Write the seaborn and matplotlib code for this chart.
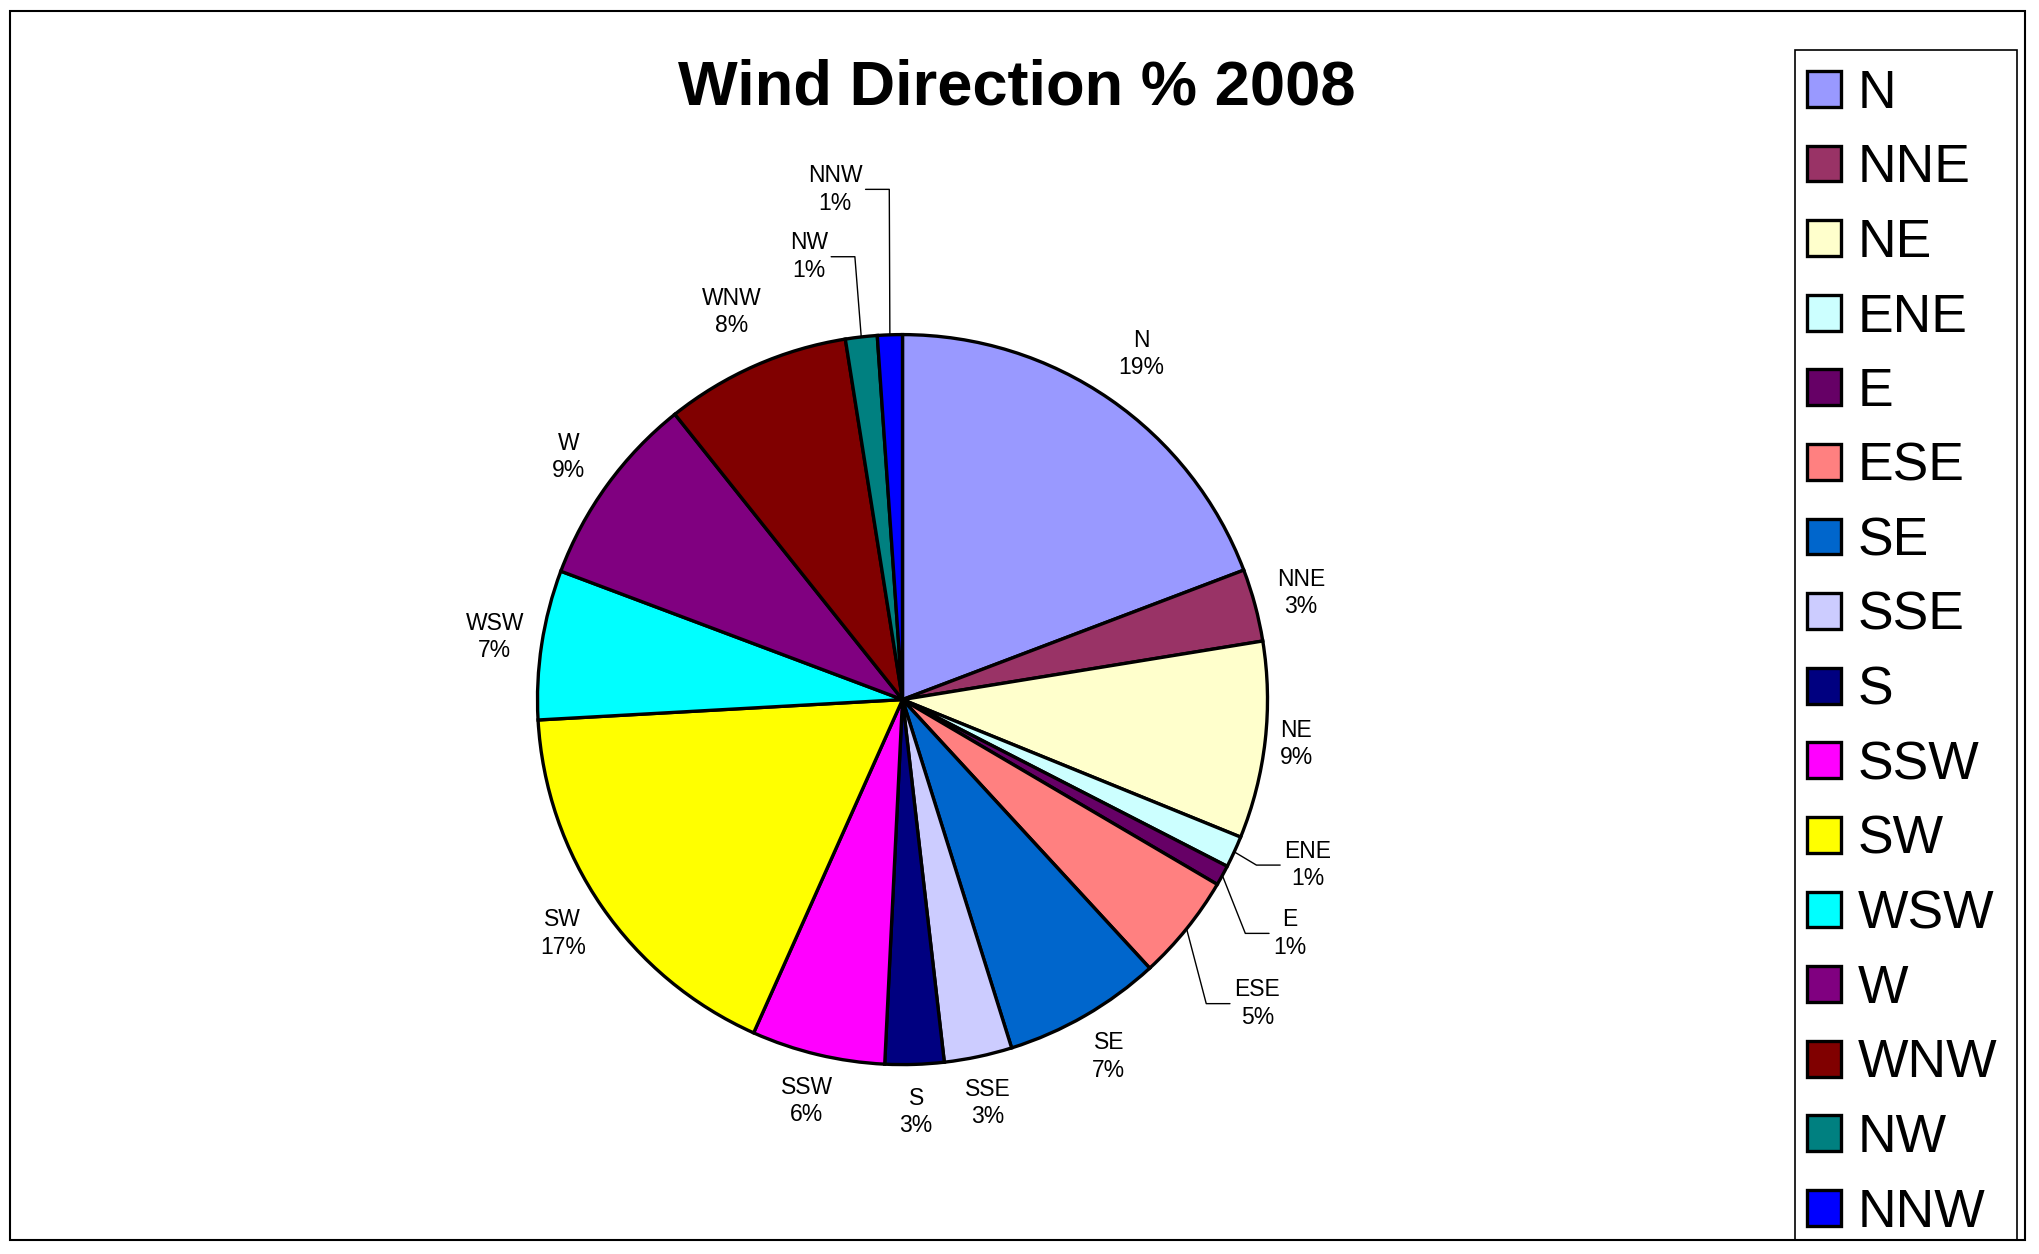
import matplotlib
matplotlib.use("Agg")
import matplotlib.pyplot as plt
import seaborn as sns
import numpy as np
from matplotlib.patches import Rectangle

# wind direction share for 2008 (percent)
directions = ["N", "NNE", "NE", "ENE", "E", "ESE", "SE", "SSE",
              "S", "SSW", "SW", "WSW", "W", "WNW", "NW", "NNW"]
shares = [19.2, 3.2, 8.7, 1.4, 0.9, 4.7, 7.0, 3.0,
          2.6, 5.9, 17.4, 6.6, 8.55, 8.2, 1.4, 1.1]
hex_colors = ["#9999FF", "#993366", "#FFFFCC", "#CCFFFF", "#660066", "#FF8080",
              "#0066CC", "#CCCCFF", "#000080", "#FF00FF", "#FFFF00", "#00FFFF",
              "#800080", "#800000", "#008080", "#0000FF"]

# label placement: radius and (optional) angle override, leader line side
label_r = {"N": 1.15, "NE": 1.085, "WNW": 1.16}
leader = {"ENE": (1.20, -22.2), "E": (1.24, -31.1), "ESE": (1.28, -40.6),
          "NW": (1.24, 101.9), "NNW": (1.41, 97.5)}

sns.set_style("white")
plt.rcParams["font.family"] = ["Liberation Sans", "DejaVu Sans"]
plt.rcParams["text.color"] = "black"

W, H = 2039, 1254
fig = plt.figure(figsize=(W / 100, H / 100), dpi=100)

# pie axes: centre (902, 700) px from top, radius 365 px
L = 1.5
side = 2 * L * 365
cx, cy = 902.5, H - 699.6
ax = fig.add_axes([(cx - side / 2) / W, (cy - side / 2) / H, side / W, side / H])

palette = sns.color_palette(hex_colors)
wedges, _ = ax.pie(shares, colors=palette, startangle=90, counterclock=False,
                   wedgeprops=dict(edgecolor="black", linewidth=2.4))
ax.set_xlim(-L, L)
ax.set_ylim(-L, L)
ax.set_aspect("equal")
ax.axis("off")

total = sum(shares)
cum = np.cumsum([0] + shares[:-1])
texts = []
for name, v, c0 in zip(directions, shares, cum):
    mid = 90 - 360 * (c0 + v / 2) / total
    pct = 100 * v / total
    if name in leader:
        r, ang = leader[name]
    else:
        r, ang = label_r.get(name, 1.13), mid
    lx, ly = r * np.cos(np.radians(ang)), r * np.sin(np.radians(ang))
    t = ax.text(lx, ly, f"{name}\n{pct:.0f}%", ha="center", va="center",
                fontsize=16.5, linespacing=1.25, color="black")
    texts.append((name, t, mid, lx, ly))

fig.canvas.draw()
inv = ax.transData.inverted()
for name, t, mid, lx, ly in texts:
    if name not in leader:
        continue
    bb = t.get_window_extent().transformed(inv)
    p0 = (np.cos(np.radians(mid)), np.sin(np.radians(mid)))
    if lx > p0[0]:
        x2 = bb.x0 - 0.012
        x1 = x2 - 0.065
    else:
        x2 = bb.x1 + 0.008
        x1 = x2 + 0.065
    ax.plot([p0[0], x1, x2], [p0[1], ly, ly], color="black", lw=1)

fig.text(1017 / W, 1 - 88 / H, "Wind Direction % 2008", ha="center", va="center",
         fontsize=45.5, fontweight="bold", color="black")

# legend entries without frame, box drawn separately to match the original
leg = fig.legend(wedges, directions, loc="upper left",
                 bbox_to_anchor=(1788 / W, 1 - 50 / H), fontsize=38.5,
                 frameon=False, borderaxespad=0, borderpad=0.35,
                 handlelength=0.65, handleheight=0.65, handletextpad=0.3,
                 labelspacing=0.46, labelcolor="black")

fig.patches.append(Rectangle((1795 / W, 1 - 1240 / H), (2017 - 1795) / W, (1240 - 50) / H,
                             transform=fig.transFigure, fill=False,
                             edgecolor="black", linewidth=1.2))
fig.patches.append(Rectangle((10 / W, 14 / H), (2025 - 10) / W, (1254 - 14 - 11) / H,
                             transform=fig.transFigure, fill=False,
                             edgecolor="black", linewidth=1.5))

fig.savefig("out.png", dpi=100)
